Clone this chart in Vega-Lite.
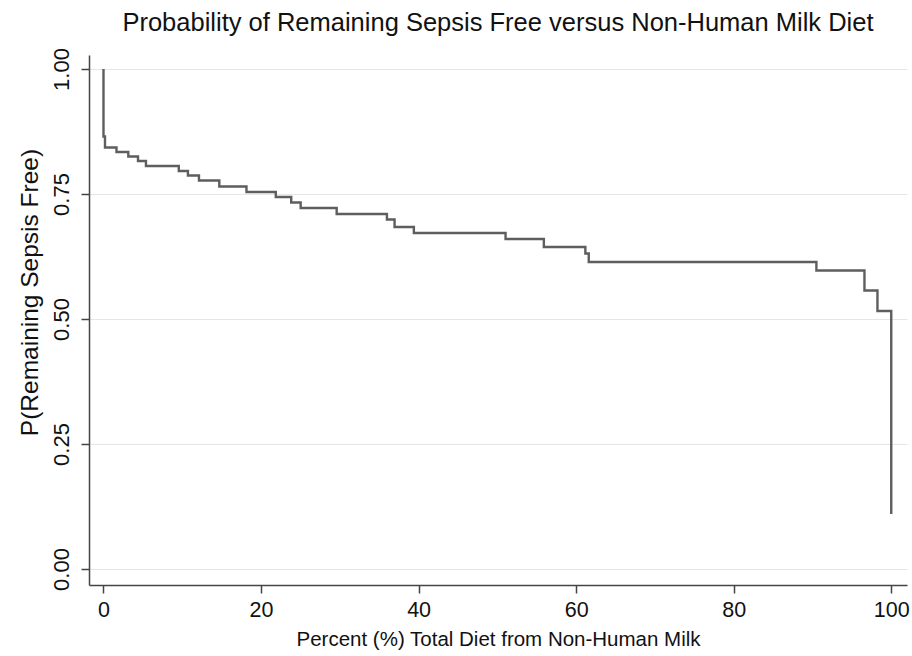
{
  "$schema": "https://vega.github.io/schema/vega-lite/v6.json",
  "autosize": {"type": "none"},
  "width": 818,
  "height": 530,
  "padding": {"left": 89, "top": 55, "right": 5, "bottom": 71},
  "background": "white",
  "title": {
    "text": "Probability of Remaining Sepsis Free versus Non-Human Milk Diet",
    "font": "Liberation Sans",
    "fontSize": 25.5,
    "fontWeight": "normal",
    "color": "#111111",
    "anchor": "middle",
    "offset": 11
  },
  "config": {
    "view": {"stroke": null},
    "axis": {
      "labelFont": "Liberation Sans",
      "titleFont": "Liberation Sans",
      "labelColor": "#111111",
      "titleColor": "#111111",
      "domainColor": "#444444",
      "tickColor": "#444444",
      "domainWidth": 1.5,
      "tickWidth": 1.5,
      "tickSize": 8,
      "titleFontWeight": "normal"
    }
  },
  "data": {
    "values": [
      {"i": 0, "x": 0, "p": 1.0},
      {"i": 1, "x": 0, "p": 0.865},
      {"i": 2, "x": 0.19, "p": 0.843},
      {"i": 3, "x": 1.65, "p": 0.834},
      {"i": 4, "x": 3.15, "p": 0.825},
      {"i": 5, "x": 4.38, "p": 0.816},
      {"i": 6, "x": 5.39, "p": 0.806},
      {"i": 7, "x": 9.56, "p": 0.796},
      {"i": 8, "x": 10.72, "p": 0.787},
      {"i": 9, "x": 12.12, "p": 0.777},
      {"i": 10, "x": 14.7, "p": 0.765},
      {"i": 11, "x": 18.15, "p": 0.754},
      {"i": 12, "x": 21.87, "p": 0.744},
      {"i": 13, "x": 23.83, "p": 0.733},
      {"i": 14, "x": 25.03, "p": 0.722},
      {"i": 15, "x": 29.6, "p": 0.71},
      {"i": 16, "x": 35.98, "p": 0.699},
      {"i": 17, "x": 36.95, "p": 0.684},
      {"i": 18, "x": 39.4, "p": 0.672},
      {"i": 19, "x": 51.04, "p": 0.66},
      {"i": 20, "x": 55.9, "p": 0.644},
      {"i": 21, "x": 61.17, "p": 0.631},
      {"i": 22, "x": 61.6, "p": 0.614},
      {"i": 23, "x": 90.5, "p": 0.597},
      {"i": 24, "x": 96.6, "p": 0.557},
      {"i": 25, "x": 98.25, "p": 0.516},
      {"i": 26, "x": 100, "p": 0.11}
    ]
  },
  "mark": {"type": "line", "interpolate": "step-after", "color": "#5e5e5e", "strokeWidth": 2.4},
  "encoding": {
    "order": {"field": "i", "type": "quantitative"},
    "x": {
      "field": "x",
      "type": "quantitative",
      "scale": {"domain": [-1.84, 102], "nice": false, "zero": false},
      "axis": {
        "values": [0, 20, 40, 60, 80, 100],
        "grid": false,
        "title": "Percent (%) Total Diet from Non-Human Milk",
        "titleFontSize": 20.5,
        "titlePadding": 9,
        "labelFontSize": 21.5,
        "labelPadding": 6,
        "labelFlush": false
      }
    },
    "y": {
      "field": "p",
      "type": "quantitative",
      "scale": {"domain": [-0.032, 1.028], "nice": false, "zero": false},
      "axis": {
        "values": [0, 0.25, 0.5, 0.75, 1],
        "format": ".2f",
        "grid": true,
        "gridColor": "#e6e6e6",
        "gridWidth": 1.2,
        "title": "P(Remaining Sepsis Free)",
        "titleFontSize": 24.5,
        "titlePadding": 8,
        "titleAlign": "center",
        "titleY": 237,
        "labelFontSize": 22,
        "labelAngle": -90,
        "labelAlign": "center",
        "labelBaseline": "bottom",
        "labelPadding": 8,
        "labelFlush": false
      }
    }
  }
}
